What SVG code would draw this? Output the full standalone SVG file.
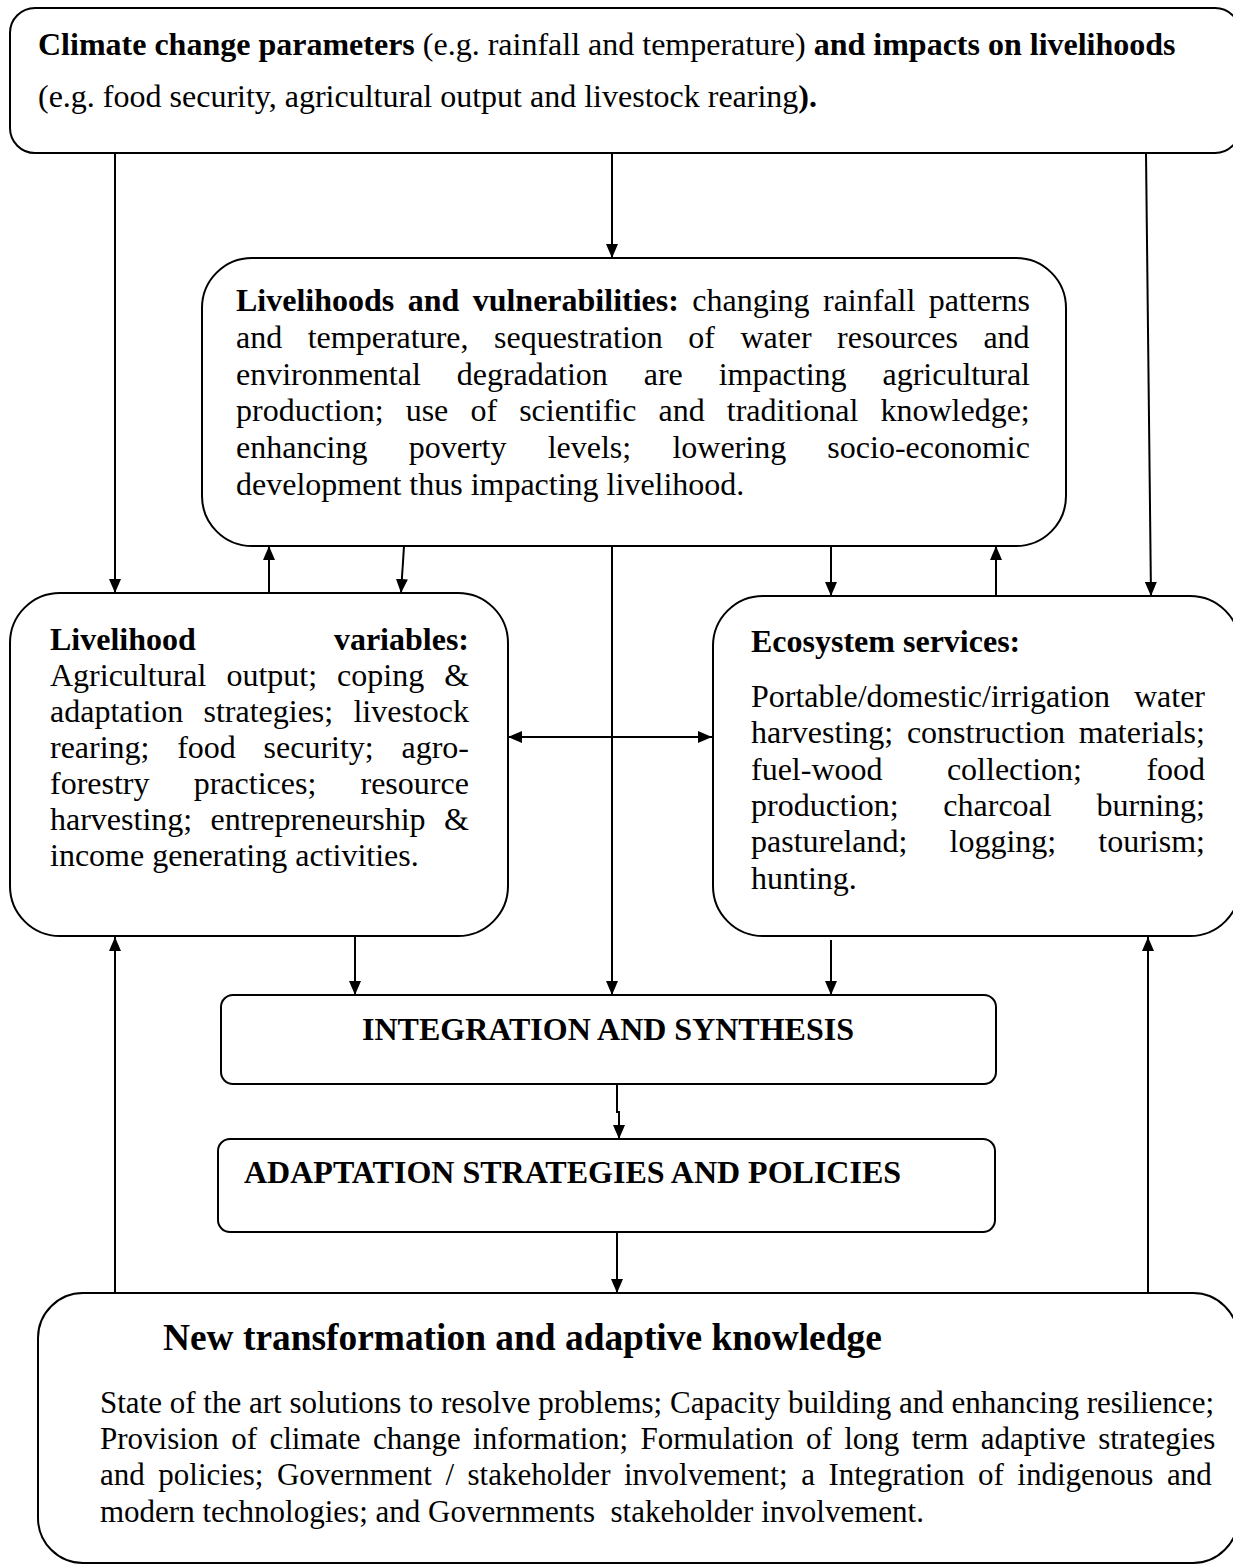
<svg xmlns="http://www.w3.org/2000/svg" width="1233" height="1564" viewBox="0 0 1233 1564">
<style>
.t{font-family:"Liberation Serif","Times New Roman",serif;font-size:32px;fill:#000}
.b{font-weight:bold}
.box{fill:#fff;stroke:#000;stroke-width:2}
.c{fill:none;stroke:#000;stroke-width:2}
</style>
<defs>
<marker id="ah" viewBox="0 0 14 12" refX="14" refY="6" markerWidth="14" markerHeight="12" markerUnits="userSpaceOnUse" orient="auto-start-reverse">
<path d="M0,0 L14,6 L0,12 z" fill="#000"/>
</marker>
</defs>
<rect width="1233" height="1564" fill="#fff"/>

<g id="climate">
<rect class="box" x="10" y="8" width="1230" height="145" rx="25"/>
<text class="t" x="38" y="55"><tspan class="b">Climate change parameters</tspan> (e.g. rainfall and temperature) <tspan class="b">and impacts on livelihoods</tspan></text>
<text class="t" x="38" y="107">(e.g. food security, agricultural output and livestock rearing<tspan class="b">).</tspan></text>
</g>

<g id="vulnerabilities">
<rect class="box" x="202" y="258" width="864" height="288" rx="50"/>
<text class="t" x="236" y="311" word-spacing="5.4"><tspan class="b">Livelihoods and vulnerabilities:</tspan> changing rainfall patterns</text>
<text class="t" x="236" y="348" word-spacing="17.5">and temperature, sequestration of water resources and</text>
<text class="t" x="236" y="385" word-spacing="27.9">environmental degradation are impacting agricultural</text>
<text class="t" x="236" y="421" word-spacing="14.1">production; use of scientific and traditional knowledge;</text>
<text class="t" x="236" y="458" word-spacing="33.2">enhancing poverty levels; lowering socio-economic</text>
<text class="t" x="236" y="495">development thus impacting livelihood.</text>
</g>

<g id="livelihood-variables">
<rect class="box" x="10" y="593" width="498" height="343" rx="50"/>
<text class="t b" x="50" y="650">Livelihood</text>
<text class="t b" x="469" y="650" text-anchor="end">variables:</text>
<text class="t" x="50" y="686" word-spacing="12">Agricultural output; coping &amp;</text>
<text class="t" x="50" y="722" word-spacing="12.2">adaptation strategies; livestock</text>
<text class="t" x="50" y="758" word-spacing="19.7">rearing; food security; agro-</text>
<text class="t" x="50" y="794" word-spacing="36.2">forestry practices; resource</text>
<text class="t" x="50" y="830" word-spacing="10.4">harvesting; entrepreneurship &amp;</text>
<text class="t" x="50" y="866">income generating activities.</text>
</g>

<g id="ecosystem-services">
<rect class="box" x="713" y="596" width="527" height="340" rx="50"/>
<text class="t b" x="751" y="652">Ecosystem services:</text>
<text class="t" x="751" y="707">Portable/domestic/irrigation</text>
<text class="t" x="1205" y="707" text-anchor="end">water</text>
<text class="t" x="751" y="743" word-spacing="5.7">harvesting; construction materials;</text>
<text class="t" x="751" y="780" word-spacing="56.4">fuel-wood collection; food</text>
<text class="t" x="751" y="816" word-spacing="36.8">production; charcoal burning;</text>
<text class="t" x="751" y="852" word-spacing="34.1">pastureland; logging; tourism;</text>
<text class="t" x="751" y="889">hunting.</text>
</g>

<g id="integration">
<rect class="box" x="221" y="995" width="775" height="89" rx="12"/>
<text class="t b" x="608" y="1040" text-anchor="middle">INTEGRATION AND SYNTHESIS</text>
</g>

<g id="adaptation">
<rect class="box" x="218" y="1139" width="777" height="93" rx="12"/>
<text class="t b" x="244" y="1183">ADAPTATION STRATEGIES AND POLICIES</text>
</g>

<g id="new-knowledge">
<rect class="box" x="38" y="1293" width="1200" height="270" rx="45"/>
<text class="t b" x="163" y="1350" style="font-size:37.4px">New transformation and adaptive knowledge</text>
<text class="t" x="100" y="1413" style="font-size:31px">State of the art solutions to resolve problems; Capacity building and enhancing resilience;</text>
<text class="t" x="100" y="1449" style="font-size:31px" word-spacing="4.6">Provision of climate change information; Formulation of long term adaptive strategies</text>
<text class="t" x="100" y="1485" style="font-size:31px" word-spacing="5.8">and policies; Government / stakeholder involvement; a Integration of indigenous and</text>
<text class="t" x="100" y="1522" style="font-size:31px" xml:space="preserve">modern technologies; and Governments  stakeholder involvement.</text>
</g>

<g id="connectors">
<path class="c" d="M115,153 V593" marker-end="url(#ah)"/>
<path class="c" d="M612,153 V258" marker-end="url(#ah)"/>
<path class="c" d="M1146,153 L1151,596" marker-end="url(#ah)"/>
<path class="c" d="M269,593 V546" marker-end="url(#ah)"/>
<path class="c" d="M404,546 L401,593" marker-end="url(#ah)"/>
<path class="c" d="M612,546 V995" marker-end="url(#ah)"/>
<path class="c" d="M831,546 V596" marker-end="url(#ah)"/>
<path class="c" d="M996,596 V546" marker-end="url(#ah)"/>
<path class="c" d="M508,737 H712" marker-start="url(#ah)" marker-end="url(#ah)"/>
<path class="c" d="M355,937 V995" marker-end="url(#ah)"/>
<path class="c" d="M831,940 V995" marker-end="url(#ah)"/>
<path class="c" d="M617,1084 V1112 H619 V1139" marker-end="url(#ah)"/>
<path class="c" d="M617,1232 V1293" marker-end="url(#ah)"/>
<path class="c" d="M115,1293 V937" marker-end="url(#ah)"/>
<path class="c" d="M1148,1293 V937" marker-end="url(#ah)"/>
</g>
</svg>
